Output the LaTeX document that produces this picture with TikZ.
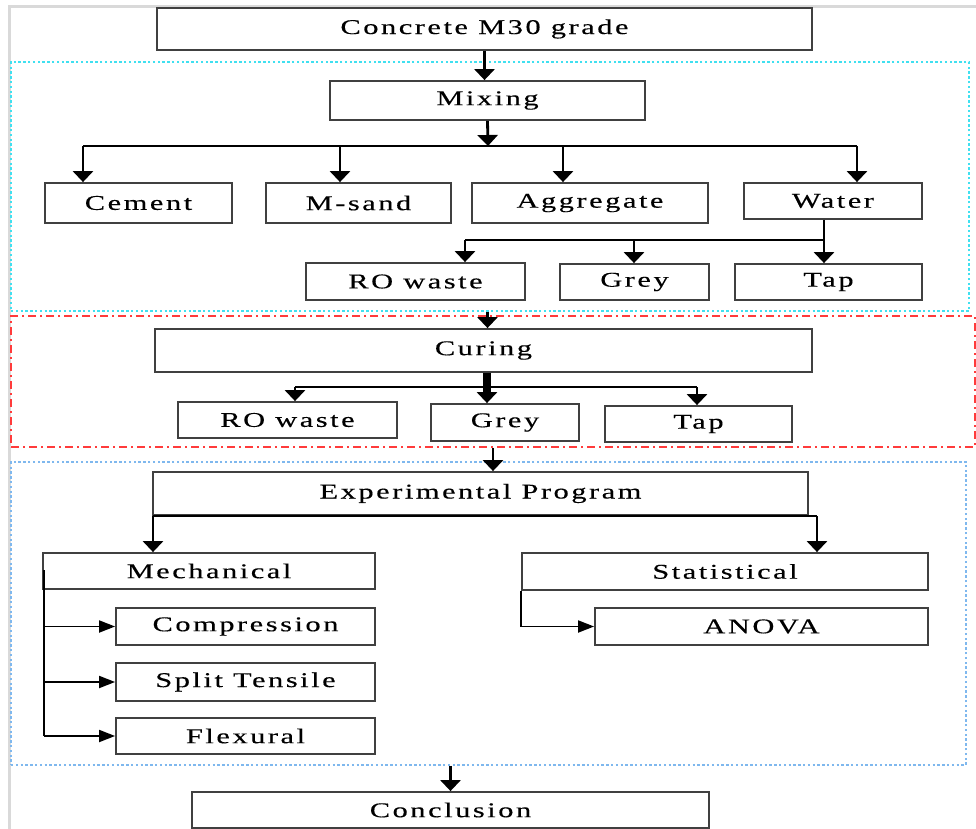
\documentclass[tikz,border=0pt]{standalone}
\usepackage{fontspec}
\setmainfont{Liberation Serif}[LetterSpace=12,FakeStretch=1.45,FakeBold=0.3]
\usetikzlibrary{arrows.meta}
\definecolor{mixcyan}{HTML}{40E0F0}
\definecolor{curred}{HTML}{FF3B3B}
\definecolor{expblue}{HTML}{7FB8EE}

\begin{document}
\begin{tikzpicture}[x=0.5pt, y=-0.5pt,
	box/.style={
	rectangle, inner sep=0pt,
	draw=black!75, line width=0.9pt, fill=white,
	font=\fontsize{10.5}{12}\selectfont},
	sec/.style={rectangle, inner sep=0pt, line width=0.9pt},
	arr/.style={-{Triangle[width=10pt,length=5.5pt]}, line width=1.4pt},
	side/.style={-{Triangle[width=6pt,length=8pt]}, line width=0.9pt},
	link/.style={line width=1pt}]
	\useasboundingbox (0,0) rectangle (976,829);
	\draw[black!15, line width=1.5pt] (9,829) -- (9,7) -- (976,7);

	% sections
	\node[sec, draw=mixcyan, dash pattern=on 1.2pt off 1.2pt,
		minimum width=479pt, minimum height=124.5pt] (mixsec) at (490,186.5) {};
	\node[sec, draw=curred, dash pattern=on 4pt off 2pt on 1pt off 2pt,
		minimum width=482pt, minimum height=65.5pt] (cursec) at (493,381.5) {};
	\node[sec, draw=expblue, dash pattern=on 1.2pt off 1.2pt,
		minimum width=477.5pt, minimum height=151.5pt] (expsec) at (488.5,613.5) {};

	% boxes
	\node[box, minimum width=327.5pt, minimum height=21pt] (concrete) at (484.5,29) {Concrete M30 grade};
	\node[box, minimum width=157.5pt, minimum height=19.5pt] (mixing) at (487.5,100.5) {Mixing};
	\node[box, minimum width=93.5pt, minimum height=20pt] (cement) at (138.5,203) {Cement};
	\node[box, minimum width=92.5pt, minimum height=20pt] (msand) at (358.5,203) {M-sand};
	\node[box, minimum width=118pt, minimum height=20pt] (aggregate) at (590,203) {Aggregate};
	\node[box, minimum width=89pt, minimum height=18pt] (water) at (833,201) {Water};
	\node[box, minimum width=109.5pt, minimum height=18.5pt] (row1) at (415.5,281.5) {RO waste};
	\node[box, minimum width=74.5pt, minimum height=18pt] (grey1) at (634.5,282) {Grey};
	\node[box, minimum width=93.5pt, minimum height=18pt] (tap1) at (828.5,282) {Tap};
	\node[box, minimum width=328.5pt, minimum height=21.5pt] (curing) at (483.5,350.5) {Curing};
	\node[box, minimum width=109.5pt, minimum height=18pt] (row2) at (287.5,420) {RO waste};
	\node[box, minimum width=74pt, minimum height=18.5pt] (grey2) at (505,422.5) {Grey};
	\node[box, minimum width=93.5pt, minimum height=18pt] (tap2) at (698.5,424) {Tap};
	\node[box, minimum width=327.5pt, minimum height=21.5pt] (exp) at (480.5,493.5) {Experimental Program};
	\node[box, minimum width=166pt, minimum height=18pt] (mech) at (209,571) {Mechanical};
	\node[box, minimum width=129.5pt, minimum height=18.5pt] (comp) at (245.5,626.5) {Compression};
	\node[box, minimum width=129.5pt, minimum height=19pt] (split) at (245.5,682) {Split Tensile};
	\node[box, minimum width=129.5pt, minimum height=18pt] (flex) at (245.5,736) {Flexural};
	\node[box, minimum width=203pt, minimum height=18.5pt] (stat) at (725,571.5) {Statistical};
	\node[box, minimum width=166.5pt, minimum height=18.5pt] (anova) at (761.5,626.5) {ANOVA};
	\node[box, minimum width=258.5pt, minimum height=18pt] (concl) at (450.5,810) {Conclusion};

	% mixing
	\draw[arr] (concrete.south) -- (concrete.south |- mixing.north);
	\coordinate (mixfork) at (488,146);
	\draw[arr] (mixing.south) -- (mixfork);
	\draw[link] (83,146) -- (857,146);
	\foreach \x/\n in {83/cement, 340/msand, 563/aggregate, 857/water}
		\draw[arr] (\x,146) -- (\x,146 |- \n.north);
	\coordinate (wfork) at (824,240);
	\draw[link] (water.south -| wfork) -- (wfork) -- (465,240);
	\foreach \x/\n in {465/row1, 634/grey1, 824/tap1}
		\draw[arr] (\x,240) -- (\x,240 |- \n.north);

	% curing
	\draw[arr] (mixsec.south -| mixing.south) -- (curing.north -| mixing.south);
	\coordinate (cfork) at (487,387);
	\draw[link] (295,387) -- (697,387);
	\draw[arr, line width=4pt] (curing.south -| cfork) -- (cfork |- grey2.north);
	\foreach \x/\n in {295/row2, 697/tap2}
		\draw[arr] (\x,387) -- (\x,387 |- \n.north);

	% experimental program
	\draw[arr] (cursec.south) -- (cursec.south |- exp.north);
	\coordinate (eforkL) at (153,516);
	\coordinate (eforkR) at (817,516);
	\draw[link] (eforkL) -- (eforkR);
	\draw[arr] (eforkL) -- (eforkL |- mech.north);
	\draw[arr] (eforkR) -- (eforkR |- stat.north);
	\coordinate (mtrunk) at (44,570);
	\draw[link] (mtrunk) -- (mtrunk |- flex.west);
	\foreach \n in {comp, split, flex}
		\draw[side] (mtrunk |- \n.west) -- (\n.west);
	\draw[side] (stat.south west) |- (anova.west);

	% conclusion
	\draw[arr] (expsec.south -| concl.north) -- (concl.north);
\end{tikzpicture}
\end{document}
